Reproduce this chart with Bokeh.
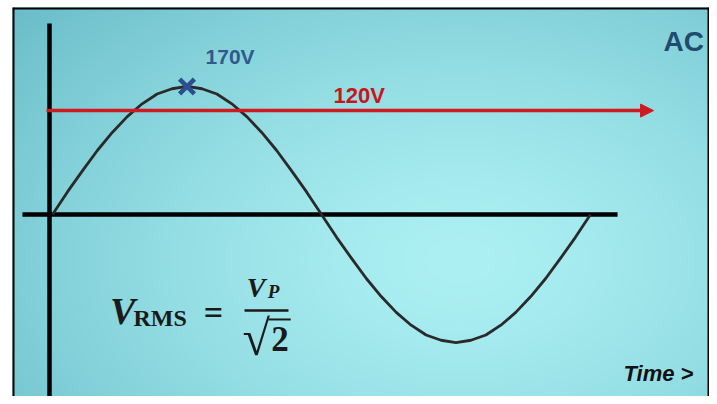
import numpy as np
from bokeh.plotting import figure
from bokeh.models import Arrow, NormalHead, Label
from bokeh.embed import file_html
from bokeh.resources import INLINE

# ---- data ----
phase_deg = [0, 10, 20, 30, 40, 50, 60, 70, 80, 90, 100, 110, 120, 130, 140, 150, 160, 170, 180,
             190, 200, 210, 220, 230, 240, 250, 260, 270, 280, 290, 300, 310, 320, 330, 340, 350, 360]
voltage = [0, 30, 58, 85, 109, 130, 147, 160, 167, 170, 167, 160, 147, 130, 109, 85, 58, 30, 0,
           -30, -58, -85, -109, -130, -147, -160, -167, -170, -167, -160, -147, -130, -109, -85, -58, -30, 0]
peak_phase = [90]
peak_voltage = [170]
peak_label = "170V"
rms_label = "120V"
rms_line_level = 138          # drawn level of the RMS arrow (as shown)
title_label = "AC"
time_label = "Time >"

X0, X1 = -26.77, 439.63
Y0, Y1 = -241.7, 274.9

p = figure(width=709, height=396, x_range=(X0, X1), y_range=(Y0, Y1),
           output_backend="svg", toolbar_location=None,
           x_axis_location=None, y_axis_location=None,
           min_border_left=12, min_border_right=0, min_border_top=7, min_border_bottom=0)
p.grid.visible = False
p.outline_line_color = None
p.border_fill_color = "white"
p.background_fill_color = "#8fd6dc"

# ---- background gradient (decoration) ----
W, H = 697, 389
px = np.arange(W) + 12.5
py = np.arange(H) + 7.5
PX, PY = np.meshgrid(px, py)
d = np.sqrt(((PX - 460) / 520.0) ** 2 + ((PY - 260) / 340.0) ** 2)
t = np.clip(d / 1.15, 0, 1) ** 1.4
inner = np.array([172, 240, 243])
outer = np.array([104, 188, 200])
rgb = inner[None, None, :] * (1 - t[..., None]) + outer[None, None, :] * t[..., None]
img = np.empty((H, W), dtype=np.uint32)
view = img.view(dtype=np.uint8).reshape((H, W, 4))
view[..., 0] = rgb[..., 0]
view[..., 1] = rgb[..., 1]
view[..., 2] = rgb[..., 2]
view[..., 3] = 255
img = np.flipud(img)
p.image_rgba(image=[img], x=X0, y=Y0, dw=X1 - X0, dh=Y1 - Y0)

# ---- frame (left, top, right) ----
p.segment(x0=[X0, X0, X1], y0=[Y0, Y1, Y0], x1=[X0, X1, X1], y1=[Y1, Y1, Y1],
          line_color="black", line_width=4)

# ---- axes lines ----
p.segment(x0=[-2.0], y0=[253.7], x1=[-2.0], y1=[Y0 - 5], line_color="black", line_width=4.5)
p.segment(x0=[-20.1], y0=[0], x1=[378.1], y1=[0], line_color="black", line_width=4.5)

# ---- sine wave ----
p.line(phase_deg, voltage, line_color="#2a2a2a", line_width=2.8, line_join="round")

# ---- RMS arrow ----
red = "#cf1a20"
p.add_layout(Arrow(end=NormalHead(size=13, fill_color=red, line_color=red, line_width=1),
                   x_start=-4.0, y_start=rms_line_level, x_end=402.2, y_end=rms_line_level,
                   line_color=red, line_width=3.5))

# ---- peak marker ----
p.scatter(peak_phase, peak_voltage, marker="x", size=21, line_width=4.5, line_color="#2d4f8e")

def lab(x, y, text, size, color, font="Liberation Sans", style="bold", align="left", baseline="middle"):
    p.add_layout(Label(x=x, y=y, text=text, text_font=font, text_font_size=f"{size}px",
                       text_font_style=style, text_color=color, text_align=align,
                       text_baseline=baseline))

lab(102.4, 209.8, peak_label, 21, "#2f5b8c")
lab(188.0, 158.0, rms_label, 22, "#c8161d")
lab(408.9, 229.8, title_label, 28, "#1f4b6e")
lab(382.1, -211.2, time_label, 22, "#111111", style="bold italic")

# ---- formula ----
fc = "#1a1a1a"
serif = "Liberation Serif"
lab(38.5, -128.8, "V", 38, fc, font=serif, style="bold italic")
lab(54.2, -138.1, "RMS", 24, fc, font=serif, style="bold")
lab(107.7, -130.2, "=", 34, fc, font=serif, style="bold", align="center")
p.segment(x0=[128.5], y0=[-127.5], x1=[157.9], y1=[-127.5], line_color=fc, line_width=2.5)
lab(130.0, -96.3, "V", 28, fc, font=serif, style="bold italic")
lab(144.0, -102.3, "P", 19, fc, font=serif, style="bold italic")
lab(127.1, -163.4, "√", 50, fc, font=serif, style="bold")
lab(146.3, -164.7, "2", 35, fc, font=serif, style="bold")
p.segment(x0=[144.5], y0=[-139.4], x1=[159.4], y1=[-139.4], line_color=fc, line_width=2)

open("out.html", "w").write(file_html(p, INLINE))
